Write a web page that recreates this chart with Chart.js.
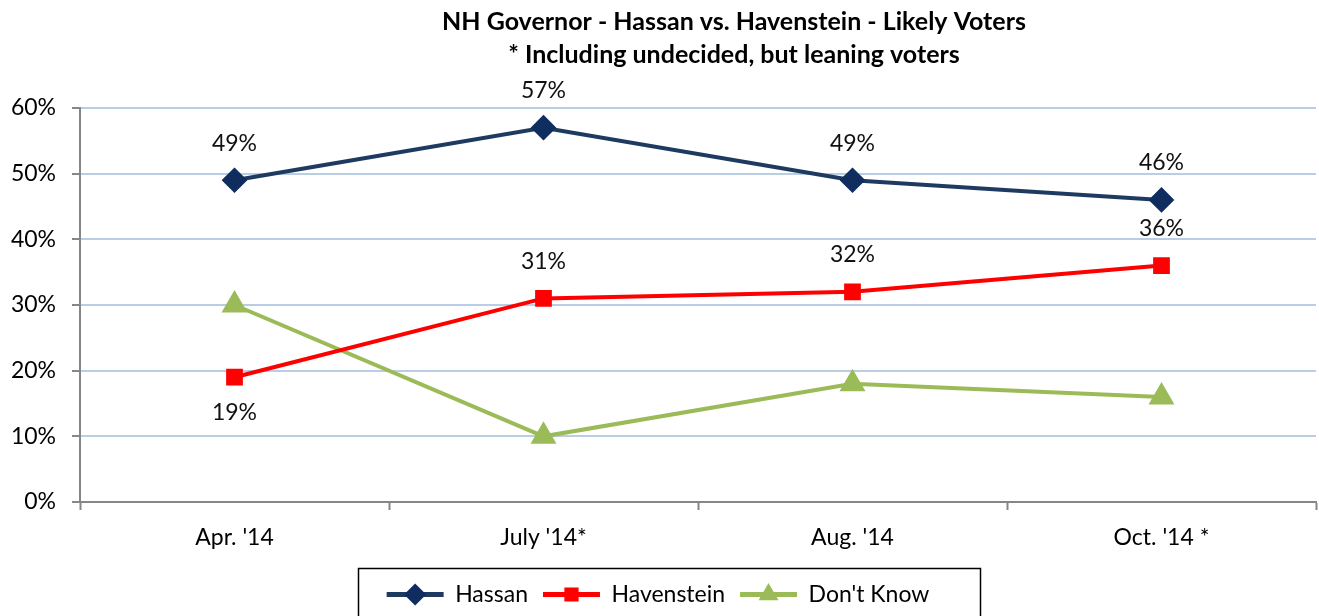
<!DOCTYPE html>
<html>
<head>
<meta charset="utf-8">
<script src="https://cdn.jsdelivr.net/npm/chart.js@4.4.0/dist/chart.umd.min.js"></script>
<style>
  html, body { margin: 0; padding: 0; background: #fff; overflow: hidden; }
  #wrap { width: 1319px; height: 616px; }
  canvas { display: block; }
</style>
</head>
<body>
<div id="wrap"><canvas id="poll"></canvas></div>
<script>
var months = ["Apr. '14", "July '14*", "Aug. '14", "Oct. '14 *"];
var hassan = [49, 57, 49, 46];
var havenstein = [19, 31, 32, 36];
var dontKnow = [30, 10, 18, 16];
var yTicks = [0, 10, 20, 30, 40, 50, 60];
var titleLines = ['NH Governor - Hassan vs. Havenstein - Likely Voters', '* Including undecided, but leaning voters'];

var FONT = 'Lato, "Open Sans", sans-serif';

// labels over the points (Havenstein Apr. goes under)
var pointLabels = {
  id: 'pointLabels',
  afterDatasetsDraw: function (chart) {
    var ctx = chart.ctx;
    ctx.save();
    ctx.font = '23px ' + FONT;
    ctx.fillStyle = '#111';
    ctx.textAlign = 'center';
    ctx.textBaseline = 'middle';
    [0, 1].forEach(function (di) {
      var meta = chart.getDatasetMeta(di);
      var vals = chart.data.datasets[di].data;
      meta.data.forEach(function (pt, i) {
        var dy = -37;
        if (di == 1 && i == 0) dy = 35;
        ctx.fillText(vals[i] + '%', pt.x, pt.y + dy);
      });
    });
    ctx.restore();
  }
};

// fixed legend height so the box sits like the original
var legendSize = {
  id: 'legendSize',
  beforeLayout: function (chart) {
    var lg = chart.legend;
    if (lg && !lg._patched) {
      var orig = lg.fit;
      lg.fit = function () { orig.call(this); this.height = 48; };
      lg._patched = true;
    }
  }
};

// title + legend box + legend markers
var extras = {
  id: 'extras',
  afterDraw: function (chart) {
    var ctx = chart.ctx;
    ctx.save();
    ctx.font = 'bold 25px ' + FONT;
    ctx.fillStyle = '#000';
    ctx.textAlign = 'center';
    ctx.textBaseline = 'middle';
    ctx.fillText(titleLines[0], 734, 22);
    ctx.fillText(titleLines[1], 734, 55);

    var lg = chart.legend;
    var boxes = lg.legendHitBoxes;
    if (boxes && boxes.length) {
      ctx.strokeStyle = '#000';
      ctx.lineWidth = 1.5;
      ctx.strokeRect(358.5, 568.5, 622, 60);
      var styles = ['rectRot', 'rect', 'triangle'];
      var cols = ['#0F2D5E', '#FF0000', '#9BBB59'];
      var sizes = [10, 9, 10];
      boxes.forEach(function (b, i) {
        var bw = lg.options.labels.boxWidth;
        ctx.fillStyle = cols[i];
        ctx.strokeStyle = cols[i];
        Chart.helpers.drawPoint(ctx, {pointStyle: styles[i], radius: sizes[i], borderWidth: 1},
          b.left + bw / 2, b.top + b.height / 2);
      });
    }
    ctx.restore();
  }
};

var chart = new Chart(document.getElementById('poll').getContext('2d'), {
  type: 'line',
  data: {
    labels: months,
    datasets: [{
      label: 'Hassan',
      data: hassan,
      borderColor: '#1F3A60',
      backgroundColor: '#17375E',
      pointBackgroundColor: '#0F2D5E',
      pointBorderColor: '#0F2D5E',
      borderWidth: 4,
      pointStyle: 'rectRot',
      pointRadius: 10,
      pointHoverRadius: 10
    }, {
      label: 'Havenstein',
      data: havenstein,
      borderColor: '#FF0000',
      backgroundColor: '#FF0000',
      pointBackgroundColor: '#FF0000',
      pointBorderColor: '#FF0000',
      borderWidth: 4,
      pointStyle: 'rect',
      pointRadius: 9,
      pointHoverRadius: 9
    }, {
      label: "Don't Know",
      data: dontKnow,
      borderColor: '#9BBB59',
      backgroundColor: '#9BBB59',
      pointBackgroundColor: '#9BBB59',
      pointBorderColor: '#9BBB59',
      borderWidth: 4,
      pointStyle: 'triangle',
      pointRadius: 11,
      pointHoverRadius: 11
    }]
  },
  options: {
    responsive: true,
    maintainAspectRatio: false,
    animation: false,
    layout: { autoPadding: false, padding: { top: 108, left: 0, right: 3, bottom: 0 } },
    plugins: {
      title: { display: false },
      tooltip: { enabled: false },
      legend: {
        display: true,
        position: 'bottom',
        labels: {
          font: { family: FONT, size: 23 },
          color: '#000',
          boxWidth: 57,
          boxHeight: 5,
          padding: 15,
          generateLabels: function (chart) {
            return chart.data.datasets.map(function (ds, i) {
              return { text: ds.label, fillStyle: ds.borderColor, strokeStyle: ds.borderColor, lineWidth: 0, datasetIndex: i, fontColor: '#000' };
            });
          }
        }
      }
    },
    scales: {
      x: {
        offset: true,
        afterFit: function (s) { s.height = 66; s.paddingLeft = 0; s.paddingRight = 0; },
        grid: { offset: true, drawOnChartArea: false, drawTicks: true, tickLength: 8, tickColor: '#868686', tickWidth: 2 },
        border: { color: '#868686', width: 2 },
        ticks: { font: { family: FONT, size: 23 }, color: '#000', padding: 14 }
      },
      y: {
        min: 0,
        max: 60,
        afterFit: function (s) { s.width = 80; },
        afterBuildTicks: function (s) { s.ticks = yTicks.map(function (v) { return { value: v }; }); },
        grid: { color: '#B9CDE5', lineWidth: 2, tickColor: '#868686', tickWidth: 2, tickLength: 8 },
        border: { color: '#868686', width: 2 },
        ticks: {
          font: { family: FONT, size: 23 },
          color: '#000',
          padding: 16,
          callback: function (v) { return v + '%'; }
        }
      }
    }
  },
  plugins: [pointLabels, legendSize, extras]
});
</script>
</body>
</html>
